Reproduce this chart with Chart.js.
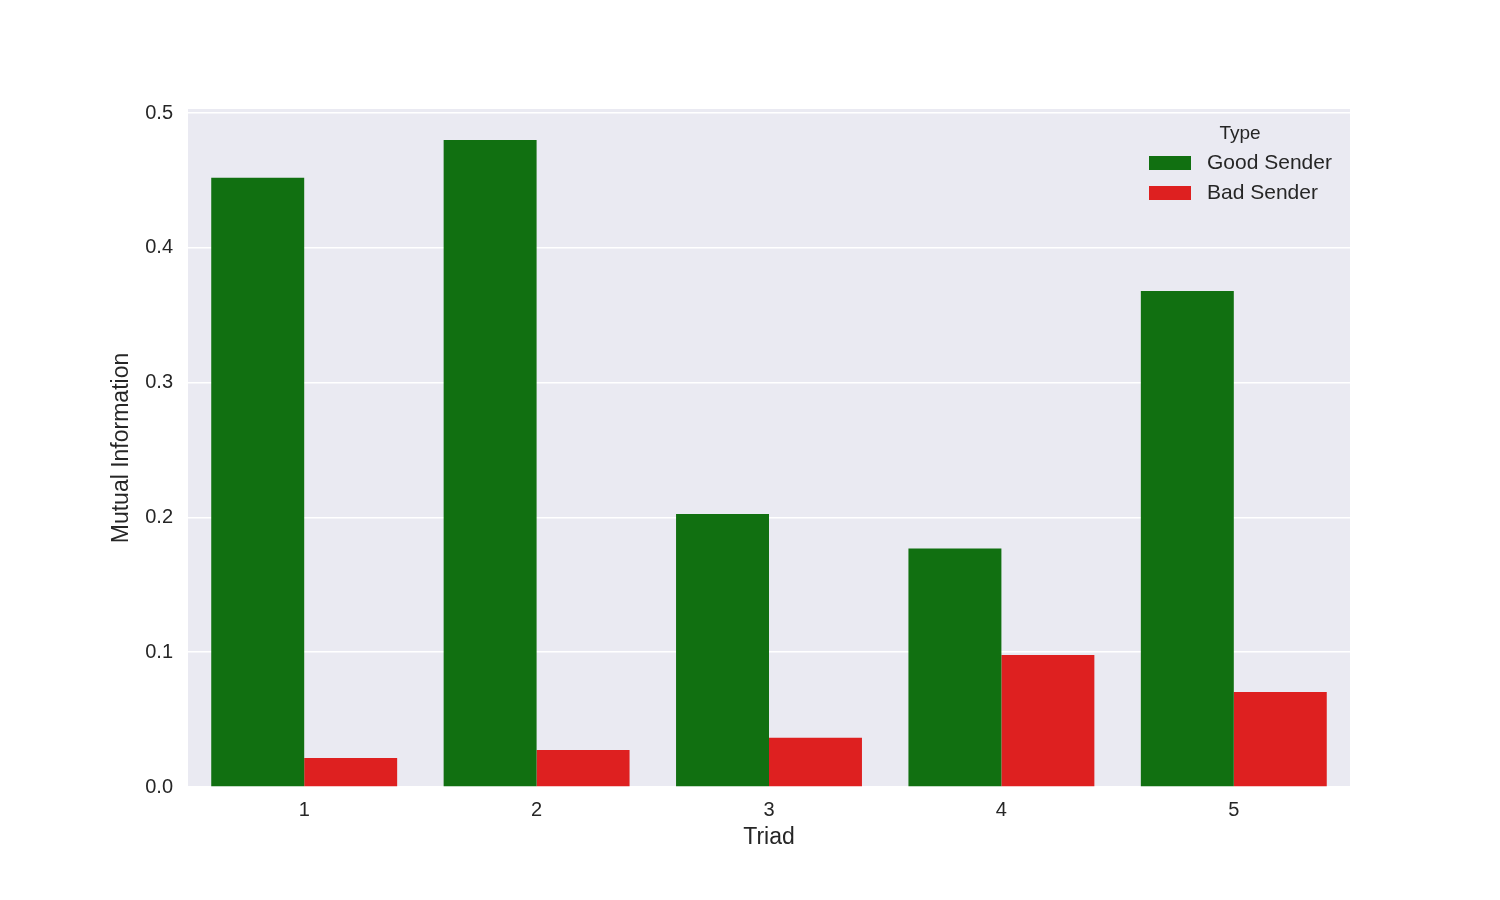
<!DOCTYPE html>
<html lang="en">
<head>
    <meta charset="UTF-8">
    <title>Mutual Information by Triad</title>
    <script src="https://cdn.jsdelivr.net/npm/chart.js"></script>
    <style>
        body { margin: 0; background: #fff; }
        #wrap { width: 1500px; height: 900px; }
    </style>
</head>
<body>
<div id="wrap"><canvas id="barChart" width="1500" height="900"></canvas></div>

<script>
// Data
const triads = ['1', '2', '3', '4', '5'];
const goodSender = [0.452, 0.480, 0.2025, 0.177, 0.368];
const badSender = [0.0215, 0.0275, 0.0365, 0.098, 0.0705];
const yTicks = [0.0, 0.1, 0.2, 0.3, 0.4, 0.5];

const FONT = '"Liberation Sans", Arial, sans-serif';
const TEXT = '#262626';

// Grey plot background
const bgPlugin = {
    id: 'plotBg',
    beforeDraw(chart) {
        const { ctx, chartArea: a } = chart;
        ctx.save();
        ctx.fillStyle = '#eaeaf2';
        ctx.fillRect(a.left, a.top, a.right - a.left, a.bottom - a.top);
        ctx.restore();
    }
};

// Legend with title, drawn inside the plot (top right)
const legendPlugin = {
    id: 'innerLegend',
    afterDraw(chart) {
        const { ctx } = chart;
        ctx.save();
        ctx.fillStyle = TEXT;
        ctx.textBaseline = 'middle';
        ctx.textAlign = 'center';
        ctx.font = '19px ' + FONT;
        ctx.fillText('Type', 1240, 134);
        ctx.font = '21px ' + FONT;
        ctx.textAlign = 'left';
        chart.data.datasets.forEach((ds, i) => {
            const y = 163 + i * 30;
            ctx.fillStyle = ds.backgroundColor;
            ctx.fillRect(1149, y - 7, 42, 14);
            ctx.fillStyle = TEXT;
            ctx.fillText(ds.label, 1207, y);
        });
        ctx.restore();
    }
};

new Chart(document.getElementById('barChart').getContext('2d'), {
    type: 'bar',
    data: {
        labels: triads,
        datasets: [
            { label: 'Good Sender', data: goodSender, backgroundColor: '#117011' },
            { label: 'Bad Sender', data: badSender, backgroundColor: '#de2020' }
        ]
    },
    options: {
        responsive: false,
        animation: false,
        devicePixelRatio: 1,
        layout: { padding: { left: 108, right: 150, top: 109, bottom: 49 } },
        datasets: { bar: { barPercentage: 1, categoryPercentage: 0.8 } },
        plugins: { legend: { display: false }, tooltip: { enabled: false } },
        scales: {
            x: {
                grid: { display: false, drawTicks: false },
                border: { display: false },
                ticks: { color: TEXT, font: { family: FONT, size: 20 }, padding: 11 },
                title: { display: true, text: 'Triad', color: TEXT, font: { family: FONT, size: 23 }, padding: 0 },
                afterFit(scale) { scale.height = 64; }
            },
            y: {
                min: 0,
                max: 0.503,
                afterBuildTicks(scale) { scale.ticks = yTicks.map(v => ({ value: v })); },
                grid: { color: '#ffffff', lineWidth: 1.6, drawTicks: false },
                border: { display: false },
                ticks: {
                    color: TEXT,
                    font: { family: FONT, size: 20 },
                    padding: 15,
                    callback: v => v.toFixed(1)
                },
                title: { display: true, text: 'Mutual Information', color: TEXT, font: { family: FONT, size: 23 }, padding: 0 },
                afterFit(scale) { scale.width = 80; }
            }
        }
    },
    plugins: [bgPlugin, legendPlugin]
});
</script>
</body>
</html>
